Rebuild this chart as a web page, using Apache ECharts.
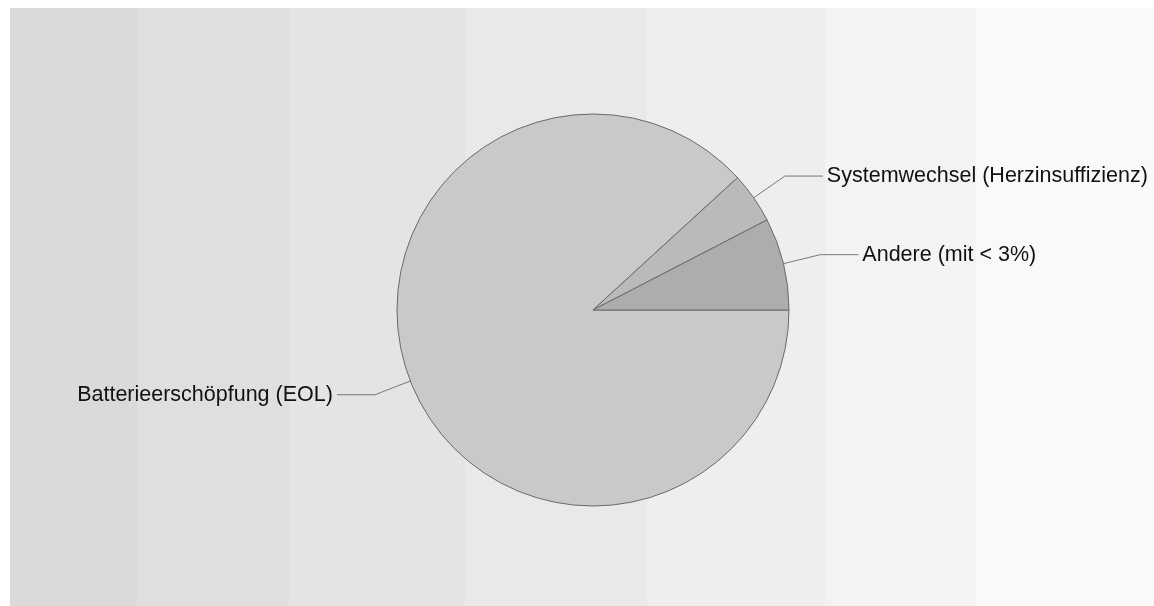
<!DOCTYPE html>
<html>
<head>
<meta charset="utf-8">
<script src="https://cdn.jsdelivr.net/npm/echarts@6/dist/echarts.min.js"></script>
<style>
html,body{margin:0;padding:0;background:#fff;}
#chart{width:1154px;height:606px;}
</style>
</head>
<body>
<div id="chart"></div>
<script>
var categories = ['Batterieerschöpfung (EOL)', 'Systemwechsel (Herzinsuffizienz)', 'Andere (mit < 3%)'];
var values = [88.2, 4.2, 7.6];
var sliceColors = ['#c9c9c9', '#bababa', '#adadad'];

var bandEdges = [10, 137, 289, 465, 647, 825, 976, 1154];
var bandColors = ['#dadada', '#dfdfdf', '#e4e4e4', '#e9e9e9', '#eeeeee', '#f3f3f3', '#f9f9f9'];

var chart = echarts.init(document.getElementById('chart'), null, {renderer: 'canvas'});
var bg = [];
for (var i = 0; i < bandColors.length; i++) {
  bg.push({
    type: 'rect', z: -10, silent: true,
    shape: {x: bandEdges[i], y: 8, width: bandEdges[i + 1] - bandEdges[i], height: 598},
    style: {fill: bandColors[i]}
  });
}

var option = {
  animation: false,
  backgroundColor: '#ffffff',
  graphic: bg,
  series: [{
    type: 'pie',
    center: [593, 310],
    radius: 196,
    startAngle: 0,
    clockwise: true,
    avoidLabelOverlap: false,
    itemStyle: {borderColor: '#6a6a6a', borderWidth: 1},
    label: {
      show: true,
      position: 'outside',
      color: '#111111',
      fontFamily: 'Liberation Sans, Arial, sans-serif',
      fontSize: 21.5,
      distanceToLabelLine: 4
    },
    labelLine: {
      show: true,
      length: 38,
      length2: 38,
      lineStyle: {color: '#777777', width: 1}
    },
    emphasis: {disabled: true},
    data: categories.map(function (c, i) {
      return {name: c, value: values[i], itemStyle: {color: sliceColors[i]}};
    })
  }]
};
chart.setOption(option);
</script>
</body>
</html>
